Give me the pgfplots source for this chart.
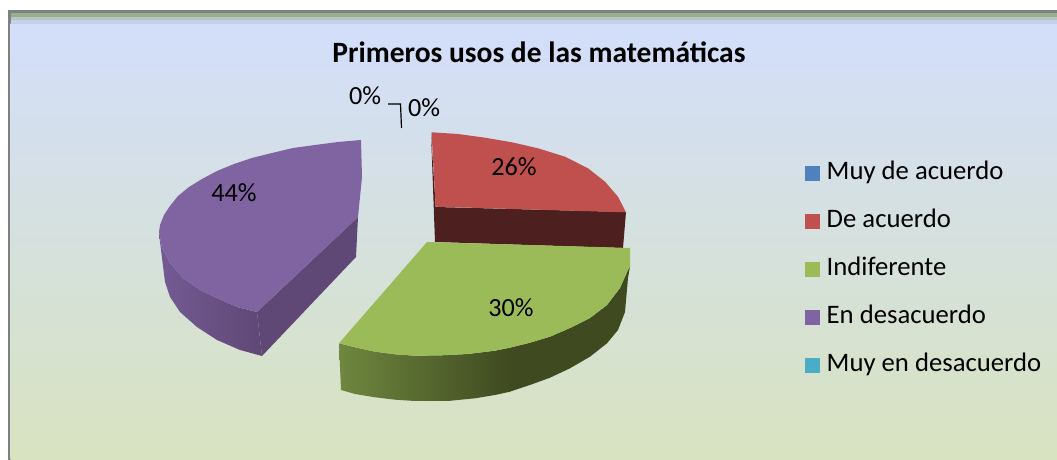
\documentclass[border=0pt]{standalone}
\usepackage{fontspec}
\setmainfont{Carlito}
\usepackage{pgfplots}
\pgfplotsset{compat=1.18}
\definecolor{azul}{HTML}{4F81BD}
\definecolor{rojo}{HTML}{C0504D}
\definecolor{rojoosc}{HTML}{4D1F1E}
\definecolor{verde}{HTML}{9BBB59}
\definecolor{verdemed}{HTML}{6F873F}
\definecolor{verdeosc}{HTML}{3F4A20}
\definecolor{morado}{HTML}{8064A2}
\definecolor{moradomed}{HTML}{745A93}
\definecolor{moradoosc}{HTML}{5F4876}
\definecolor{turquesa}{HTML}{4BACC6}
\definecolor{fondoa}{HTML}{D3DEFB}
\definecolor{fondob}{HTML}{D6E1E0}
\definecolor{fondoc}{HTML}{D8E3C0}
\newcommand{\rotulo}{\fontsize{26.3}{28}\selectfont}
\begin{document}
\begin{tikzpicture}
\begin{axis}[
  scale only axis,
  width=1057bp, height=460bp,
  xmin=0, xmax=1057, ymin=0, ymax=460,
  y dir=reverse,
  hide axis,
  legend style={at={(axis cs:805,160.5)}, anchor=north west, draw=none, fill=none,
    font=\fontsize{26.8}{28}\selectfont, row sep=22bp, inner sep=0pt, outer sep=0pt,
    nodes={text height=18bp, text depth=5bp, inner sep=1.5bp}},
  legend cell align={left},
  legend image code/.code={\fill[#1,draw=none] (0bp,-7.5bp) rectangle (15bp,7.5bp); \path (20bp,0bp);},
]
% chart area
\addplot[draw=none, fill=white, forget plot] coordinates {(0,0)(1057,0)(1057,460)(0,460)} -- cycle;
\addplot[draw=none, fill=gray, forget plot] coordinates {(8.3,10)(1057,10)(1057,460)(8.3,460)} -- cycle;
\addplot[draw=none, top color=fondoa, middle color=fondob, bottom color=fondoc, forget plot] coordinates {(10.7,24)(1057,24)(1057,460)(10.7,460)} -- cycle;
\addplot[draw=none, fill=fondoa!85!gray, forget plot] coordinates {(10.7,20)(1057,20)(1057,24)(10.7,24)} -- cycle;
\addplot[draw=none, fill={rgb,255:red,181;green,197;blue,191}, forget plot] coordinates {(10.7,17)(1057,17)(1057,20)(10.7,20)} -- cycle;
\addplot[draw=none, fill={rgb,255:red,151;green,174;blue,143}, forget plot] coordinates {(10.7,12.7)(1057,12.7)(1057,17)(10.7,17)} -- cycle;

% En desacuerdo 44%
\addplot[draw=none, fill=moradoosc, forget plot] coordinates {(358,217)(356,257)(262,356)(257,312)} -- cycle;
\addplot[draw=none, left color=moradomed, right color=moradoosc, forget plot] coordinates {
  (159,232)(160,242)(165,282)(170,297)(180,312)(197,327)(217,340)(240,350)(262,356)
  (257,312)(237,307)(217,298)(200,290)(183,278)(170,263)(162,248)} -- cycle;
\addplot[draw=none, fill=morado, forget plot] coordinates {
  (361,140)(338,142)(315,145)(293,148)(272,153)(252,158)(234,164)(217,171)(202,179)(189,187)
  (178,196)(170,206)(164,215)(160,225)(159,232)(162,248)(170,263)(183,278)(200,290)(217,298)(237,307)(257,312)
  (358,217)(362,177)} -- cycle;

% De acuerdo 26%
\addplot[draw=none, fill=rojoosc, forget plot] coordinates {(431,133)(435.7,207)(626,212)(623,248)(435,242)} -- cycle;
\addplot[draw=none, fill=rojo, forget plot] coordinates {
  (431.5,132.3)(458,134)(485,137.7)(512,142.3)(538,148.3)(565,156.7)(588,168.3)(605,181.7)(618,196.7)(626,212.3)(435.7,206.7)} -- cycle;

% Indiferente 30%
\addplot[draw=none, left color=verdemed, right color=verdeosc, forget plot] coordinates {
  (339,343.3)(341,390)(355,394)(375,397.3)(395,399.7)(415,401)(448,401)(475,398.3)(495,395)(510,391.7)
  (510,347.7)(495,350.7)(468,354)(442,355.3)(415,355.7)(395,354.3)(375,351.7)(355,347.3)} -- cycle;
\addplot[draw=none, fill=verdeosc, forget plot] coordinates {
  (509.5,391.8)(530,385)(550,377.7)(570,368.3)(590,356.7)(607,343.3)(618,330)(625,312)(628,278)(630,266.7)
  (628,270)(620,288)(607,305)(590,318)(570,328)(550,336.7)(530,342.7)(509.5,347.8)} -- cycle;
\addplot[draw=none, fill=verde, forget plot] coordinates {
  (427,242)(630,248)(630,266.7)(628,270)(620,288)(607,305)(590,318)(570,328)(550,336.7)(530,342.7)(510,347.7)
  (495,350.7)(468,354)(442,355.3)(415,355.7)(395,354.3)(375,351.7)(355,347.3)(339,343.3)} -- cycle;

% leader line of the 0% labels
\addplot[black, line width=1.2bp, forget plot] coordinates {(388,104)(400.5,104)(401.5,128)};

% legend
\addlegendimage{fill=azul}
\addlegendentry{Muy de acuerdo}
\addlegendimage{fill=rojo}
\addlegendentry{De acuerdo}
\addlegendimage{fill=verde}
\addlegendentry{Indiferente}
\addlegendimage{fill=morado}
\addlegendentry{En desacuerdo}
\addlegendimage{fill=turquesa}
\addlegendentry{Muy en desacuerdo}

% texts
\node[font=\fontsize{29.6}{32}\selectfont\bfseries] at (axis cs:539,52) {Primeros usos de las matemáticas};
\node[font=\rotulo] at (axis cs:365,96) {0\%};
\node[font=\rotulo] at (axis cs:424,108) {0\%};
\node[font=\rotulo] at (axis cs:514,167) {26\%};
\node[font=\rotulo] at (axis cs:511,308) {30\%};
\node[font=\rotulo] at (axis cs:234,193) {44\%};
\end{axis}
\end{tikzpicture}
\end{document}
